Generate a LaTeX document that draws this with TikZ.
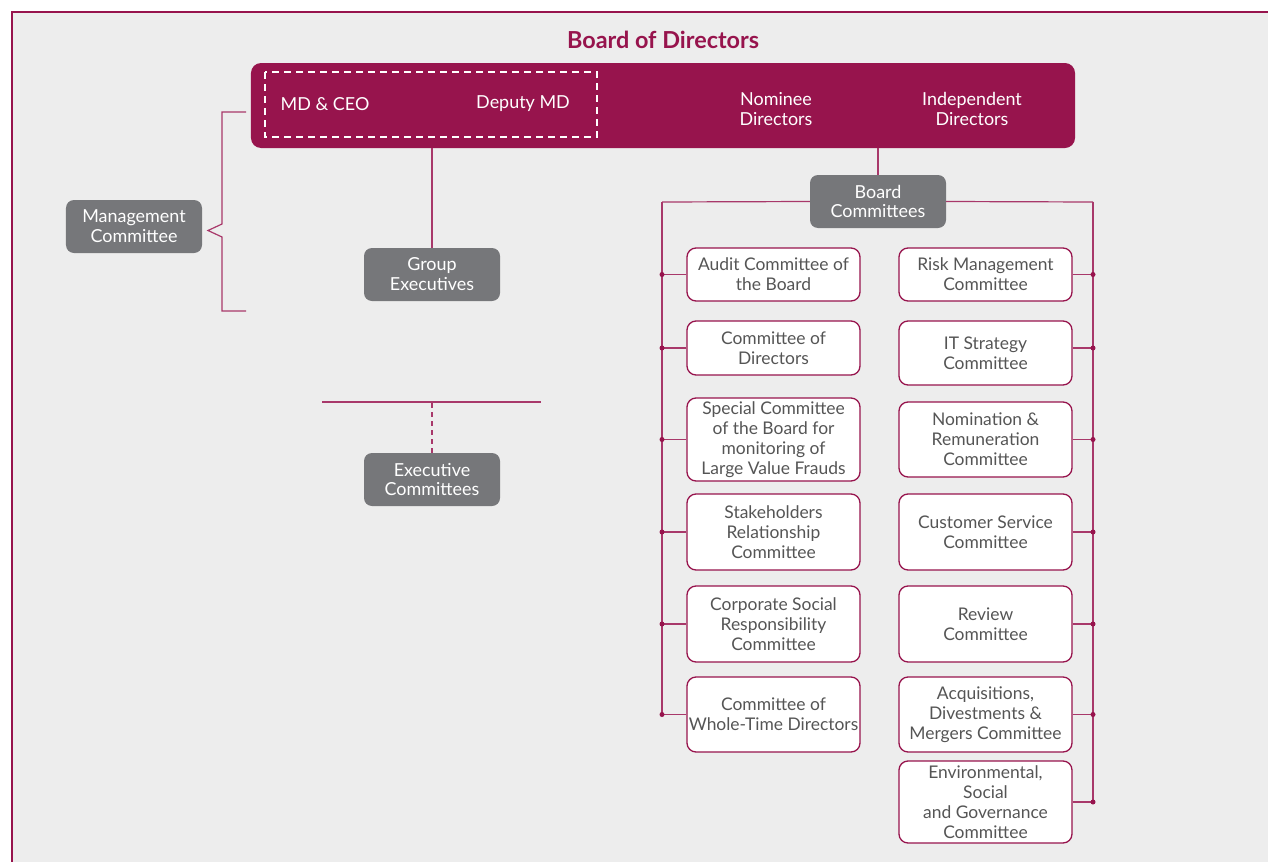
\documentclass[tikz,border=0pt]{standalone}
\usepackage{fontspec}
\setmainfont{Lato}
\definecolor{mag}{HTML}{97144D}
\definecolor{conn}{HTML}{A8386A}
\definecolor{bggray}{HTML}{EDEDED}
\definecolor{boxgray}{HTML}{76777A}
\definecolor{txtgray}{HTML}{555555}
\tikzset{
  txt/.style={font=\fontsize{17.5}{20}\selectfont, align=center},
  wtxt/.style={font=\fontsize{18}{20}\selectfont, align=center, text=white},
  graybox/.style={wtxt, fill=boxgray, rounded corners=8bp, minimum width=136bp, minimum height=53bp, inner sep=0pt},
  combox/.style={txt, draw=mag, line width=1.3bp, fill=white, text=txtgray, rounded corners=9bp, minimum width=173bp, inner sep=0pt},
  link/.style={draw=conn, line width=1.2bp},
  jdot/.style={fill=mag, circle, inner sep=0pt, minimum size=5bp},
}
\begin{document}
\begin{tikzpicture}[x=1bp, y=-1bp]
\useasboundingbox (0,0) rectangle (1268,862);
\fill[white] (0,0) rectangle (1268,862);
\fill[bggray] (12,12) rectangle (1268,862);
\draw[mag, line width=2bp] (1268,12) -- (12,12) -- (12,862);

% title and board
\node[font=\fontsize{23.5}{26}\selectfont\bfseries, text=mag] (title) at (663,40) {Board of Directors};
\node[fill=mag, rounded corners=10bp, minimum width=824bp, minimum height=85bp, inner sep=0pt] (board) at (663,105.5) {};
\draw[white, line width=1.1bp, dash pattern=on 7bp off 5bp] (265,72) rectangle (597,137);
\node[wtxt] (md) at (325,104) {MD \& CEO};
\node[wtxt] (dmd) at (523,104) {Deputy MD};
\node[wtxt] (nom) at (776,109) {Nominee\\Directors};
\node[wtxt] (ind) at (972,109) {Independent\\Directors};

% left part
\node[graybox] (mgmt) at (134,226.5) {Management\\Committee};
\node[graybox] (grp) at (432,274.5) {Group\\Executives};
\node[graybox] (exec) at (432,479.5) {Executive\\Committees};
\draw[link] (grp.north) -- (grp.north |- board.south);
\draw[link] (246,112) -- (222,112) -- (222,224) -- (208,230.5) -- (222,237) -- (222,311) -- (246,311);
\coordinate (el) at (322,402);
\coordinate (er) at (541,402);
\draw[link] (el) -- (er);
\draw[link, dash pattern=on 5bp off 4bp] (exec.north) -- (exec.north |- el);

% board committees
\node[graybox] (bc) at (878,201.5) {Board\\Committees};
\draw[link] (bc.north) -- (bc.north |- board.south);
\coordinate (spLt) at (662,202);
\coordinate (spRt) at (1093,202);
\draw[link] (bc.west) -- (spLt);
\draw[link] (bc.east) -- (spRt);

\node[combox, minimum height=53bp] (a1) at (773.5,274.5) {Audit Committee of\\the Board};
\node[combox, minimum height=54bp] (a2) at (773.5,348) {Committee of\\Directors};
\node[combox, minimum height=83bp] (a3) at (773.5,439.5) {Special Committee\\of the Board for\\monitoring of\\Large Value Frauds};
\node[combox, minimum height=76bp] (a4) at (773.5,532) {Stakeholders\\Relationship\\Committee};
\node[combox, minimum height=76bp] (a5) at (773.5,624) {Corporate Social\\Responsibility\\Committee};
\node[combox, minimum height=75bp] (a6) at (773.5,714.5) {Committee of\\Whole-Time Directors};

\node[combox, minimum height=53bp] (b1) at (985.5,274.5) {Risk Management\\Committee};
\node[combox, minimum height=64bp] (b2) at (985.5,353) {IT Strategy\\Committee};
\node[combox, minimum height=75bp] (b3) at (985.5,439.5) {Nomination \&\\Remuneration\\Committee};
\node[combox, minimum height=76bp] (b4) at (985.5,532) {Customer Service\\Committee};
\node[combox, minimum height=76bp] (b5) at (985.5,624) {Review\\Committee};
\node[combox, minimum height=75bp] (b6) at (985.5,714.5) {Acquisitions,\\Divestments \&\\Mergers Committee};
\node[combox, minimum height=82bp] (b7) at (985.5,802) {Environmental,\\Social\\and Governance\\Committee};

% spines
\draw[link] (spLt) -- (spLt |- a6.west);
\draw[link] (spRt) -- (spRt |- b7.east);
\foreach \n in {a1,a2,a3,a4,a5,a6}{
  \draw[link] (\n.west) -- (\n.west -| spLt) node[jdot] {};
}
\foreach \n in {b1,b3,b4,b5,b6,b7}{
  \draw[link] (\n.east) -- (\n.east -| spRt) node[jdot] {};
}
\draw[link] ([yshift=5bp]b2.east) -- ([yshift=5bp]b2.east -| spRt) node[jdot] {};
\end{tikzpicture}
\end{document}
